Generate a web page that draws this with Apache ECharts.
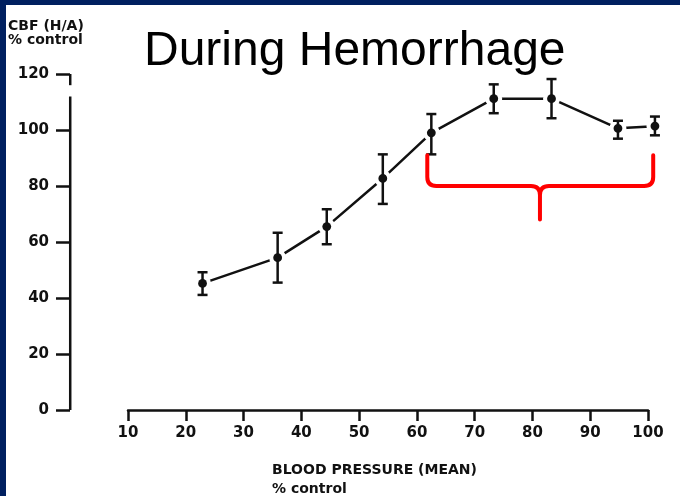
<!DOCTYPE html>
<html><head><meta charset="utf-8">
<script src="https://cdn.jsdelivr.net/npm/echarts@6/dist/echarts.min.js"></script>
<style>html,body{margin:0;padding:0;background:#002060;}#c{width:680px;height:496px;}</style>
</head><body><div id="c"></div>
<script>
// ---- data ----
const bloodPressure = [22.9, 35.9, 44.4, 54.1, 62.5, 73.3, 83.3, 94.8, 101.2];
const cbf           = [45.2, 54.4, 65.5, 82.7, 99.0, 111.2, 111.2, 100.6, 101.4];
const cbfLow        = [41.1, 45.5, 59.2, 73.6, 91.3, 106.0, 104.2, 96.9, 98.1];
const cbfHigh       = [49.2, 63.3, 71.7, 91.3, 105.7, 116.3, 118.2, 103.3, 104.8];
const xTickLabels = [10, 20, 30, 40, 50, 60, 70, 80, 90, 100];
const yTickLabels = [0, 20, 40, 60, 80, 100, 120];
// broken y axis line pieces (in CBF units)
const yAxisLinePieces = [[0, 112], [116, 120]];
// red brace annotation (data units)
const braceX = [61.8, 81.3, 100.9];   // left, centre, right
const braceY = [91, 80, 68];          // arm tops, bar, tip

const chart = echarts.init(document.getElementById('c'), null, {renderer: 'canvas'});
const black = '#111';
const tickFont = {fontFamily: 'DejaVu Sans', fontWeight: 'bold', fontSize: 15, color: black};

const option = {
  backgroundColor: '#002060',
  animation: false,
  graphic: [{type: 'rect', left: 6, top: 5, shape: {width: 674, height: 491}, style: {fill: '#fff'}, z: -10, silent: true}],
  title: {
    text: 'During Hemorrhage', left: 144, top: 28, padding: 0,
    textStyle: {fontFamily: 'Liberation Sans', fontWeight: 'normal', fontSize: 48, color: '#000'}
  },
  grid: {left: 128, right: 32, top: 74, bottom: 86, containLabel: false, outerBoundsMode: 'none'},
  xAxis: {
    type: 'value', min: xTickLabels[0], max: xTickLabels[xTickLabels.length - 1], interval: 10,
    axisLine: {show: true, onZero: false, lineStyle: {color: black, width: 2.5}},
    axisTick: {show: true, length: 11, lineStyle: {color: black, width: 2.5}},
    axisLabel: Object.assign({margin: 16, showMinLabel: true, showMaxLabel: true}, tickFont),
    splitLine: {show: false},
    name: 'BLOOD PRESSURE (MEAN)\n% control', nameLocation: 'middle', nameGap: 51,
    nameTextStyle: {fontFamily: 'DejaVu Sans', fontWeight: 'bold', fontSize: 14, color: black,
      align: 'left', verticalAlign: 'top', lineHeight: 19, padding: [0, 0, 0, -116]}
  },
  yAxis: {
    type: 'value', min: yTickLabels[0], max: yTickLabels[yTickLabels.length - 1], interval: 20,
    offset: 58,
    axisLine: {show: false},
    axisTick: {show: true, length: 14, lineStyle: {color: black, width: 2.5}},
    axisLabel: Object.assign({margin: 21}, tickFont),
    splitLine: {show: false},
    name: 'CBF (H/A)\n% control', nameLocation: 'end', nameGap: 27,
    nameTextStyle: {fontFamily: 'DejaVu Sans', fontWeight: 'bold', fontSize: 14, color: black,
      align: 'left', verticalAlign: 'bottom', lineHeight: 14, padding: [0, 0, 0, -62]}
  },
  series: [
    {
      type: 'custom', name: 'y axis line', silent: true, clip: false, z: 3,
      data: yAxisLinePieces,
      encode: {x: -1, y: [0, 1]},
      renderItem: function (params, api) {
        const a = api.coord([0, api.value(0)]);
        const b = api.coord([0, api.value(1)]);
        return {type: 'line', shape: {x1: a[0], y1: a[1], x2: b[0], y2: b[1]},
          style: {stroke: black, lineWidth: 2.5}};
      }
    },
    {
      type: 'line', name: 'CBF', clip: false, z: 2,
      data: bloodPressure.map((x, i) => [x, cbf[i]]),
      symbol: 'circle', symbolSize: 14,
      itemStyle: {color: '#fff', borderColor: '#fff', borderWidth: 3},
      lineStyle: {color: black, width: 2.5}
    },
    {
      type: 'custom', name: 'error', clip: false, z: 5, silent: true,
      data: bloodPressure.map((x, i) => [x, cbfLow[i], cbfHigh[i], cbf[i]]),
      encode: {x: 0, y: [1, 2]},
      renderItem: function (params, api) {
        const x = api.value(0);
        const lo = api.coord([x, api.value(1)]);
        const hi = api.coord([x, api.value(2)]);
        const mid = api.coord([x, api.value(3)]);
        const w = 5, st = {stroke: black, lineWidth: 2.5};
        return {type: 'group', children: [
          {type: 'line', shape: {x1: lo[0], y1: lo[1], x2: hi[0], y2: hi[1]}, style: st},
          {type: 'line', shape: {x1: lo[0] - w, y1: lo[1], x2: lo[0] + w, y2: lo[1]}, style: st},
          {type: 'line', shape: {x1: hi[0] - w, y1: hi[1], x2: hi[0] + w, y2: hi[1]}, style: st},
          {type: 'circle', shape: {cx: mid[0], cy: mid[1], r: 4.4}, style: {fill: black}}
        ]};
      }
    },
    {
      type: 'custom', name: 'brace', clip: false, z: 6, silent: true,
      data: [[braceX[0], braceY[0]]],
      renderItem: function (params, api) {
        const L = api.coord([braceX[0], braceY[0]]);
        const C = api.coord([braceX[1], braceY[1]]);
        const R = api.coord([braceX[2], braceY[0]]);
        const T = api.coord([braceX[1], braceY[2]]);
        const yb = C[1], r = 9;
        const d = 'M' + L[0] + ' ' + L[1] + ' L' + L[0] + ' ' + (yb - r) +
          ' Q' + L[0] + ' ' + yb + ' ' + (L[0] + r) + ' ' + yb +
          ' L' + (C[0] - r) + ' ' + yb + ' Q' + C[0] + ' ' + yb + ' ' + C[0] + ' ' + (yb + r) +
          ' L' + C[0] + ' ' + T[1] +
          ' M' + R[0] + ' ' + R[1] + ' L' + R[0] + ' ' + (yb - r) +
          ' Q' + R[0] + ' ' + yb + ' ' + (R[0] - r) + ' ' + yb +
          ' L' + (C[0] + r) + ' ' + yb + ' Q' + C[0] + ' ' + yb + ' ' + C[0] + ' ' + (yb + r);
        return {type: 'path', shape: {pathData: d},
          style: {stroke: '#ff0000', lineWidth: 4, fill: null, lineJoin: 'round', lineCap: 'round'}};
      }
    }
  ]
};
chart.setOption(option);
</script>
</body></html>
